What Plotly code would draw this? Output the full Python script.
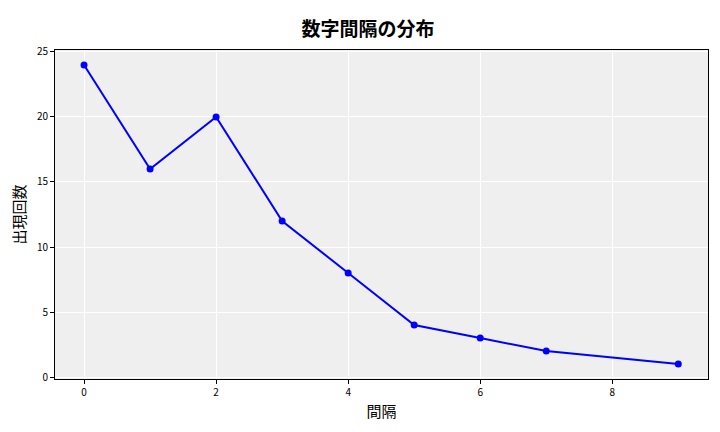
import plotly.graph_objects as go

intervals = [0, 1, 2, 3, 4, 5, 6, 7, 9]
counts = [24, 16, 20, 12, 8, 4, 3, 2, 1]

font = "Noto Sans CJK JP"
fig = go.Figure(go.Scatter(x=intervals, y=counts, mode="lines+markers",
                           line=dict(color="#0000ff", width=2),
                           marker=dict(color="#0000ff", size=7)))
# page body adds an 8px offset, so margins are reduced accordingly
fig.update_layout(
    width=720, height=432, margin=dict(l=47, r=20, t=42, b=61),
    paper_bgcolor="white", plot_bgcolor="#efefef",
    font=dict(family=font, size=10, color="black"),
    title=dict(text="<b>数字間隔の分布</b>", x=0.5, xanchor="center", y=0.965, font=dict(size=19)),
    showlegend=False,
)
axis = dict(showgrid=True, gridcolor="white", gridwidth=1, zeroline=False,
            showline=True, linecolor="black", mirror=True, ticks="outside",
            ticklen=4, tickcolor="black", automargin=False)
fig.update_xaxes(axis, range=[-0.44, 9.45], tickvals=[0, 2, 4, 6, 8],
                 title=dict(text="間隔", font=dict(size=15), standoff=8))
fig.update_yaxes(axis, range=[-0.15, 25.15], tickvals=[0, 5, 10, 15, 20, 25],
                 title=dict(text="出現回数", font=dict(size=15), standoff=8))
fig.write_html("out.html")
